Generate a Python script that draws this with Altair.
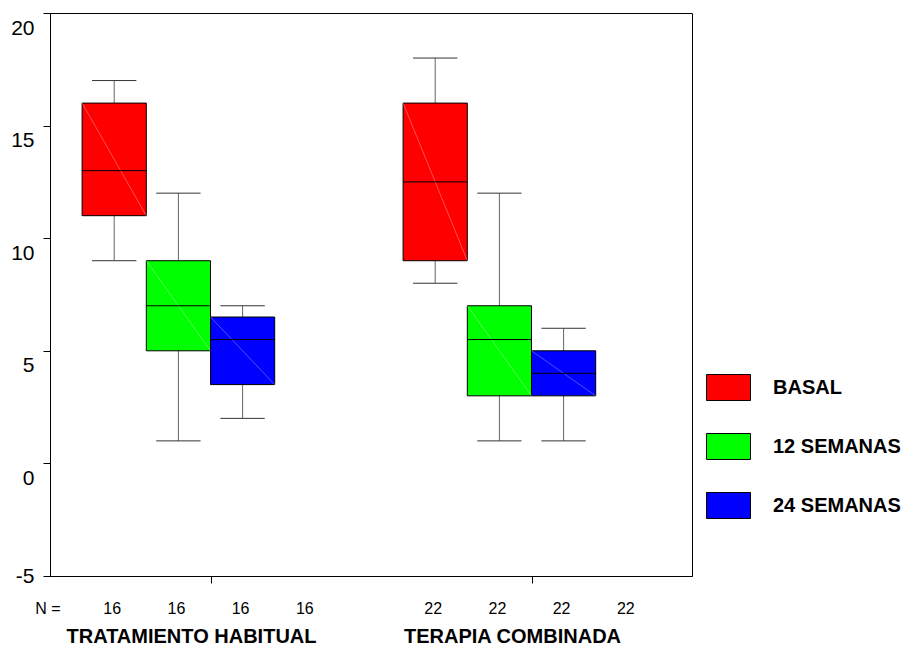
import altair as alt
import pandas as pd

# ---- data ----
groups = ["TRATAMIENTO HABITUAL", "TERAPIA COMBINADA"]
series = ["BASAL", "12 SEMANAS", "24 SEMANAS"]
colors = ["#FF0000", "#00FF00", "#0000FF"]

whisker_low = [9, 1, 2, 8, 1, 1]
q1 = [11, 5, 3.5, 9, 3, 3]
median = [13, 7, 5.5, 12.5, 5.5, 4]
q3 = [16, 9, 6.5, 16, 7, 5]
whisker_high = [17, 12, 7, 18, 12, 6]

n_counts = [16, 22]
n_cats_per_group = 4
y_ticks = [-5, 0, 5, 10, 15, 20]

# ---- build tables ----
rows = []
for gi, g in enumerate(groups):
    for si, s in enumerate(series):
        i = gi * len(series) + si
        slot = gi * (n_cats_per_group + 1) + si + 1
        rows.append(dict(group=g, series=s, slot=slot,
                         left=slot - 0.5, right=slot + 0.5,
                         capL=slot - 0.345, capR=slot + 0.345,
                         low=whisker_low[i], q1=q1[i], median=median[i],
                         q3=q3[i], high=whisker_high[i]))
box_df = pd.DataFrame(rows)

n_rows = [dict(slot=0, label="N =")]
for gi in range(len(groups)):
    for k in range(n_cats_per_group):
        n_rows.append(dict(slot=gi * (n_cats_per_group + 1) + k + 1, label=str(n_counts[gi])))
n_df = pd.DataFrame(n_rows)

g_df = pd.DataFrame(dict(group=groups,
                         center=[gi * (n_cats_per_group + 1) + (n_cats_per_group + 1) / 2
                                 for gi in range(len(groups))]))

W, H = 642, 563
FONT = "Liberation Sans"

x_scale = alt.Scale(domain=[0, 10], nice=False, zero=False)
y_scale = alt.Scale(domain=[-5, 20], nice=False, zero=False)
x_axis = alt.Axis(values=[2.5, 7.5], labels=False, title=None, ticks=True, tickSize=7,
                  grid=False, domain=True, domainColor="black", tickColor="black")
y_axis = alt.Axis(values=y_ticks, title=None, grid=False, tickSize=7, labelPadding=9,
                  labelFontSize=21, labelFont=FONT, labelColor="black",
                  domainColor="black", tickColor="black",
                  labelExpr="datum.value < 0 ? '-' + abs(datum.value) : '' + datum.value",
                  labelOffset={"condition": {"test": "datum.value == -5", "value": 0}, "value": 15})

base = alt.Chart(box_df)

whisk = base.mark_rule(color="#666666", strokeWidth=1).encode(
    x=alt.X("slot:Q", scale=x_scale, axis=x_axis),
    y=alt.Y("low:Q", scale=y_scale, axis=y_axis),
    y2="high:Q")

cap_lo = base.mark_rule(color="#333333", strokeWidth=1).encode(
    x=alt.X("capL:Q", scale=x_scale, axis=x_axis), x2="capR:Q",
    y=alt.Y("low:Q", scale=y_scale, axis=y_axis))
cap_hi = base.mark_rule(color="#333333", strokeWidth=1).encode(
    x=alt.X("capL:Q", scale=x_scale, axis=x_axis), x2="capR:Q",
    y=alt.Y("high:Q", scale=y_scale, axis=y_axis))

boxes = base.mark_rect(stroke="black", strokeWidth=1, opacity=1).encode(
    x=alt.X("left:Q", scale=x_scale, axis=x_axis), x2="right:Q",
    y=alt.Y("q1:Q", scale=y_scale, axis=y_axis), y2="q3:Q",
    color=alt.Color("series:N", scale=alt.Scale(domain=series, range=colors),
                    legend=alt.Legend(title=None, orient="none", legendX=656, legendY=352,
                                      symbolType="M-1,-0.59H1V0.59H-1Z", symbolSize=1936,
                                      symbolStrokeColor="black", symbolStrokeWidth=1,
                                      symbolOpacity=1,
                                      labelFont=FONT, labelFontSize=20, labelFontWeight="bold",
                                      labelColor="black", labelOffset=22, rowPadding=21)))

diag = base.mark_rule(color="white", opacity=0.45, strokeWidth=0.7).encode(
    x=alt.X("left:Q", scale=x_scale, axis=x_axis), x2="right:Q",
    y=alt.Y("q3:Q", scale=y_scale, axis=y_axis), y2="q1:Q")

med = base.mark_rule(color="black", strokeWidth=1).encode(
    x=alt.X("left:Q", scale=x_scale, axis=x_axis), x2="right:Q",
    y=alt.Y("median:Q", scale=y_scale, axis=y_axis))

n_text = alt.Chart(n_df).mark_text(font=FONT, fontSize=16, color="black",
                                   baseline="middle", align="center", dx=-2).encode(
    x=alt.X("slot:Q", scale=x_scale, axis=x_axis),
    y=alt.value(H + 33), text="label:N")

g_text = alt.Chart(g_df).mark_text(font=FONT, fontSize=20, fontWeight="bold", color="black",
                                   baseline="middle", align="center", dx=-19).encode(
    x=alt.X("center:Q", scale=x_scale, axis=x_axis),
    y=alt.value(H + 61), text="group:N")

chart = alt.layer(whisk, cap_lo, cap_hi, boxes, diag, med, n_text, g_text).properties(
    width=W, height=H,
    autosize=alt.AutoSizeParams(type="none"),
    padding={"left": 50, "top": 13, "right": 915 - 50 - W, "bottom": 648 - 13 - H},
    background="white",
).configure_view(stroke="black", strokeWidth=1).configure_axis(labelFont=FONT)

chart.save("out.html", embed_options={"renderer": "svg", "actions": False})
